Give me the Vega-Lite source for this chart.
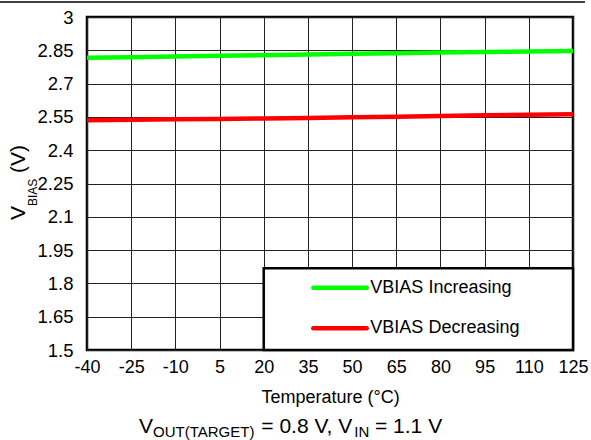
{
  "$schema": "https://vega.github.io/schema/vega-lite/v6.json",
  "width": 486,
  "height": 333,
  "autosize": {"type": "none"},
  "padding": {"left": 87, "top": 17, "right": 18, "bottom": 90},
  "background": "white",
  "config": {
    "font": "Liberation Sans",
    "view": {"stroke": "black", "strokeWidth": 2.5},
    "axis": {
      "labelColor": "black",
      "titleColor": "black",
      "labelFont": "Liberation Sans",
      "titleFont": "Liberation Sans",
      "titleFontWeight": "normal",
      "ticks": false,
      "domain": false,
      "grid": true,
      "gridColor": "#222222",
      "gridWidth": 1,
      "gridOpacity": 1,
      "labelOverlap": false
    }
  },
  "layer": [
    {
      "data": {
        "values": [
          {"temp": -40, "v": 2.817, "series": "VBIAS Increasing"},
          {"temp": -25, "v": 2.819, "series": "VBIAS Increasing"},
          {"temp": -10, "v": 2.822, "series": "VBIAS Increasing"},
          {"temp": 5, "v": 2.825, "series": "VBIAS Increasing"},
          {"temp": 20, "v": 2.828, "series": "VBIAS Increasing"},
          {"temp": 35, "v": 2.831, "series": "VBIAS Increasing"},
          {"temp": 50, "v": 2.834, "series": "VBIAS Increasing"},
          {"temp": 65, "v": 2.837, "series": "VBIAS Increasing"},
          {"temp": 80, "v": 2.840, "series": "VBIAS Increasing"},
          {"temp": 95, "v": 2.842, "series": "VBIAS Increasing"},
          {"temp": 110, "v": 2.845, "series": "VBIAS Increasing"},
          {"temp": 125, "v": 2.847, "series": "VBIAS Increasing"},
          {"temp": -40, "v": 2.535, "series": "VBIAS Decreasing"},
          {"temp": -25, "v": 2.537, "series": "VBIAS Decreasing"},
          {"temp": -10, "v": 2.539, "series": "VBIAS Decreasing"},
          {"temp": 5, "v": 2.541, "series": "VBIAS Decreasing"},
          {"temp": 20, "v": 2.543, "series": "VBIAS Decreasing"},
          {"temp": 35, "v": 2.545, "series": "VBIAS Decreasing"},
          {"temp": 50, "v": 2.548, "series": "VBIAS Decreasing"},
          {"temp": 65, "v": 2.551, "series": "VBIAS Decreasing"},
          {"temp": 80, "v": 2.554, "series": "VBIAS Decreasing"},
          {"temp": 95, "v": 2.557, "series": "VBIAS Decreasing"},
          {"temp": 110, "v": 2.560, "series": "VBIAS Decreasing"},
          {"temp": 125, "v": 2.562, "series": "VBIAS Decreasing"}
        ]
      },
      "mark": {"type": "line", "strokeWidth": 4.5, "clip": false},
      "encoding": {
        "x": {
          "field": "temp",
          "type": "quantitative",
          "scale": {"domain": [-40, 125], "nice": false, "zero": false},
          "axis": {
            "values": [-40, -25, -10, 5, 20, 35, 50, 65, 80, 95, 110, 125],
            "tickCount": 20,
            "labelExpr": "'' + datum.value",
            "labelFontSize": 18,
            "labelPadding": 8,
            "labelFlush": false,
            "labelOverlap": false,
            "title": "Temperature (°C)",
            "titleFontSize": 18,
            "titlePadding": 12
          }
        },
        "y": {
          "field": "v",
          "type": "quantitative",
          "scale": {"domain": [1.5, 3], "nice": false, "zero": false},
          "axis": {
            "values": [1.5, 1.65, 1.8, 1.95, 2.1, 2.25, 2.4, 2.55, 2.7, 2.85, 3],
            "tickCount": 20,
            "labelExpr": "'' + datum.value",
            "labelFontSize": 18.5,
            "labelPadding": 14,
            "labelFlush": false,
            "labelOverlap": false,
            "title": null
          }
        },
        "color": {
          "field": "series",
          "type": "nominal",
          "scale": {"domain": ["VBIAS Increasing", "VBIAS Decreasing"], "range": ["#00FF00", "#FF0000"]},
          "legend": null
        },
        "detail": {"field": "series"}
      }
    },
    {
      "data": {"values": [{}]},
      "mark": {"type": "rect", "fill": "white", "stroke": "black", "strokeWidth": 2.5},
      "encoding": {
        "x": {"datum": 20, "type": "quantitative"},
        "x2": {"datum": 125},
        "y": {"datum": 1.868, "type": "quantitative"},
        "y2": {"datum": 1.5}
      }
    },
    {
      "data": {"values": [{}]},
      "mark": {"type": "rule", "stroke": "#00FF00", "strokeWidth": 4.5, "strokeCap": "round"},
      "encoding": {
        "x": {"datum": 36.83, "type": "quantitative"},
        "x2": {"datum": 54.96},
        "y": {"datum": 1.7806, "type": "quantitative"}
      }
    },
    {
      "data": {"values": [{}]},
      "mark": {"type": "rule", "stroke": "#FF0000", "strokeWidth": 4.5, "strokeCap": "round"},
      "encoding": {
        "x": {"datum": 36.83, "type": "quantitative"},
        "x2": {"datum": 54.96},
        "y": {"datum": 1.5977, "type": "quantitative"}
      }
    },
    {
      "data": {"values": [{}]},
      "mark": {"type": "text", "text": "VBIAS Increasing", "fontSize": 18, "align": "left", "baseline": "middle", "color": "black"},
      "encoding": {
        "x": {"datum": 56.2, "type": "quantitative"},
        "y": {"datum": 1.7806, "type": "quantitative"}
      }
    },
    {
      "data": {"values": [{}]},
      "mark": {"type": "text", "text": "VBIAS Decreasing", "fontSize": 18, "align": "left", "baseline": "middle", "color": "black"},
      "encoding": {
        "x": {"datum": 56.2, "type": "quantitative"},
        "y": {"datum": 1.5977, "type": "quantitative"}
      }
    },
    {
      "data": {"values": [{}]},
      "mark": {"type": "rule", "stroke": "black", "strokeWidth": 1.5},
      "encoding": {
        "x": {"datum": -69.54, "type": "quantitative"},
        "x2": {"datum": 129.07},
        "y": {"datum": 3.0676, "type": "quantitative"}
      }
    },
    {
      "data": {"values": [{}]},
      "mark": {"type": "text", "text": "V", "fontSize": 21, "angle": 270, "align": "left", "baseline": "alphabetic", "color": "black"},
      "encoding": {
        "x": {"datum": -61.05, "type": "quantitative"},
        "y": {"datum": 2.0856, "type": "quantitative"}
      }
    },
    {
      "data": {"values": [{}]},
      "mark": {"type": "text", "text": "BIAS", "fontSize": 12, "angle": 270, "align": "left", "baseline": "alphabetic", "color": "black"},
      "encoding": {
        "x": {"datum": -56.98, "type": "quantitative"},
        "y": {"datum": 2.1486, "type": "quantitative"}
      }
    },
    {
      "data": {"values": [{}]},
      "mark": {"type": "text", "text": "(V)", "fontSize": 21, "angle": 270, "align": "left", "baseline": "alphabetic", "color": "black"},
      "encoding": {
        "x": {"datum": -61.05, "type": "quantitative"},
        "y": {"datum": 2.2977, "type": "quantitative"}
      }
    },
    {
      "data": {"values": [{}]},
      "mark": {"type": "text", "text": "V", "fontSize": 21, "align": "left", "baseline": "alphabetic", "color": "black"},
      "encoding": {
        "x": {"datum": -22.35, "type": "quantitative"},
        "y": {"datum": 1.1261, "type": "quantitative"}
      }
    },
    {
      "data": {"values": [{}]},
      "mark": {"type": "text", "text": "OUT(TARGET)", "fontSize": 15, "align": "left", "baseline": "alphabetic", "color": "black"},
      "encoding": {
        "x": {"datum": -17.59, "type": "quantitative"},
        "y": {"datum": 1.1103, "type": "quantitative"}
      }
    },
    {
      "data": {"values": [{}]},
      "mark": {"type": "text", "text": "= 0.8 V, V", "fontSize": 21, "align": "left", "baseline": "alphabetic", "color": "black"},
      "encoding": {
        "x": {"datum": 19.18, "type": "quantitative"},
        "y": {"datum": 1.1261, "type": "quantitative"}
      }
    },
    {
      "data": {"values": [{}]},
      "mark": {"type": "text", "text": "IN", "fontSize": 15, "align": "left", "baseline": "alphabetic", "color": "black"},
      "encoding": {
        "x": {"datum": 50.72, "type": "quantitative"},
        "y": {"datum": 1.1103, "type": "quantitative"}
      }
    },
    {
      "data": {"values": [{}]},
      "mark": {"type": "text", "text": "= 1.1 V", "fontSize": 21, "align": "left", "baseline": "alphabetic", "color": "black"},
      "encoding": {
        "x": {"datum": 57.78, "type": "quantitative"},
        "y": {"datum": 1.1261, "type": "quantitative"}
      }
    }
  ]
}
